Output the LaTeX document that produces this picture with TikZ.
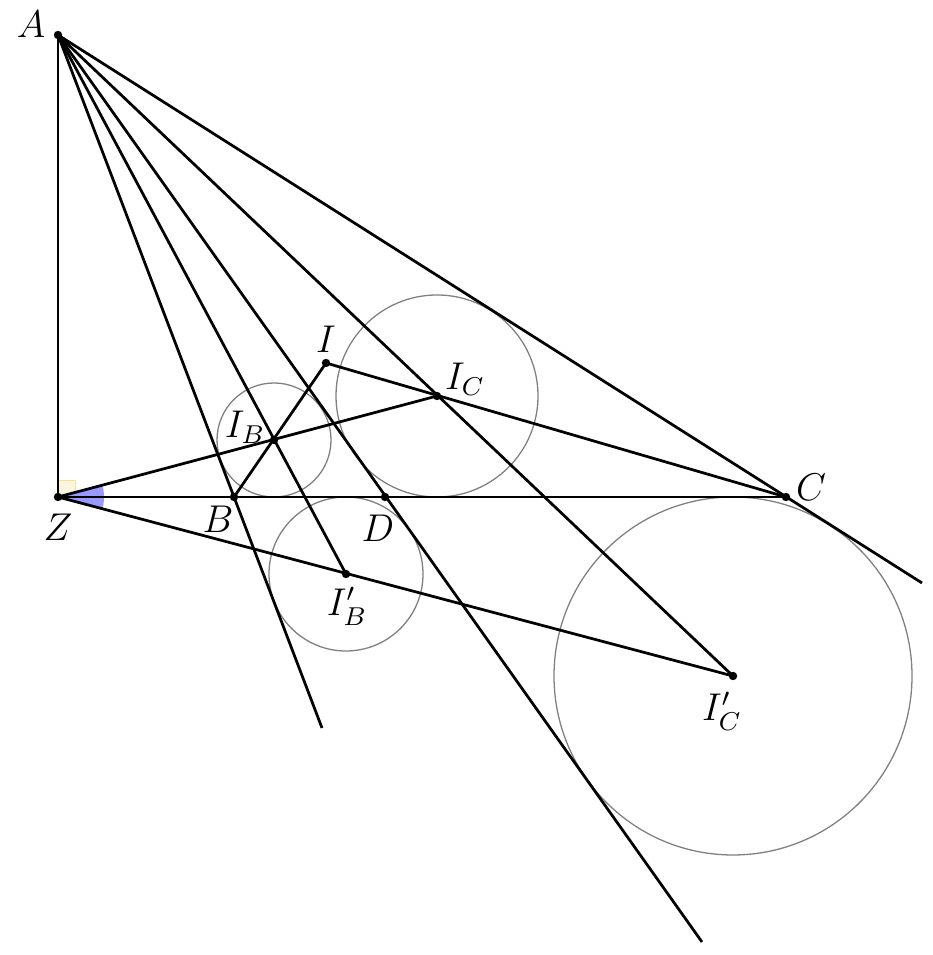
\documentclass[tikz,border=0pt]{standalone}
\usepackage{amsmath}
\usetikzlibrary{calc}

\begin{document}
\begin{tikzpicture}[x=0.31pt,y=0.31pt,
  ln/.style={line width=0.85pt},
  cir/.style={gray,line width=0.4pt}]
\useasboundingbox (0,0) rectangle (932,955);

% points
\coordinate (A) at (58,920);
\coordinate (Z) at (58,458);
\coordinate (B) at (234,458);
\coordinate (D) at (385,458);
\coordinate (C) at (786,458);
\coordinate (I) at (326,592);
\coordinate (IB) at (274,515);
\coordinate (IC) at (437,559);
\coordinate (IBp) at (346,381);
\coordinate (ICp) at (733,279);
\coordinate (eB) at (322,227);
\coordinate (eD) at (702,13);
\coordinate (eC) at (922,372);

% circles
\draw[cir] (IB) circle (57);
\draw[cir] (IC) circle (101);
\draw[cir] (IBp) circle (77);
\draw[cir] (ICp) circle (179);

% angle marks at Z
\filldraw[fill=yellow!50!brown!15,draw=yellow!50!brown!45,line width=0.3pt] (Z) rectangle ++(17,17);
\fill[blue!40] (Z) -- ++(-14.85:46) arc (-14.85:14.9:46) -- cycle;

% lines
\path[ln]
  (A) edge (Z)
      edge (eB)
      edge (IBp)
      edge (eD)
      edge (ICp)
      edge (eC)
  (Z) edge (C)
      edge (IC)
      edge (ICp)
  (B) edge (I)
  (I) edge (C)
  ;

\foreach \p in {A,Z,B,D,C,I,IB,IC,IBp,ICp}
  \fill (\p) circle (4.2);

% labels
\node (lA) at (31,931) {\large$A$};
\node (lZ) at (58,428) {\large$Z$};
\node (lB) at (218,436) {\large$B$};
\node (lD) at (378,427) {\large$D$};
\node (lC) at (811,468) {\large$C$};
\node (lI) at (326,616) {\large$I$};
\node (lIB) at (245,528) {\large$I_B$};
\node (lIC) at (465,576) {\large$I_C$};
\node (lIBp) at (347,349) {\large$I'_B$};
\node (lICp) at (722,244) {\large$I'_C$};
\end{tikzpicture}
\end{document}
